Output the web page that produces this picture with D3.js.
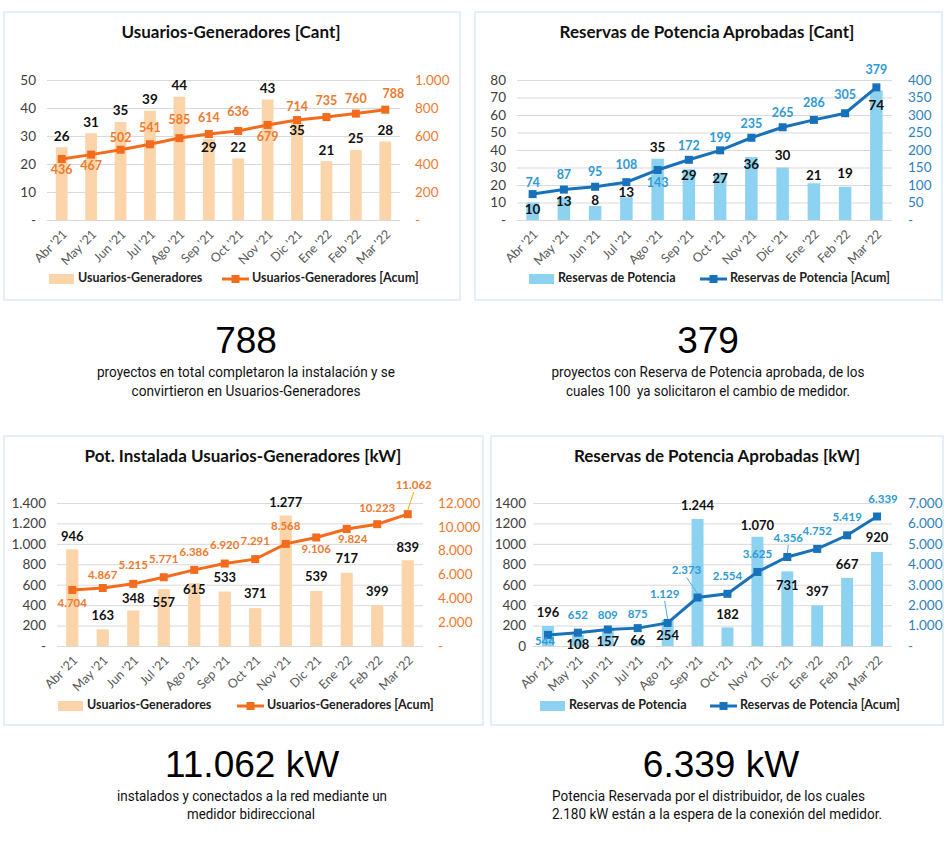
<!DOCTYPE html>
<html>
<head>
<meta charset="utf-8">
<script src="https://d3js.org/d3.v7.min.js"></script>
<style>
  body { margin: 0; background: #fff; }
  text { font-family: Lato, "Open Sans", sans-serif; }
</style>
</head>
<body>
<div id="page"></div>
<script>
// ---- data ----
const months = ["Abr '21", "May '21", "Jun '21", "Jul '21", "Ago '21", "Sep '21",
                "Oct '21", "Nov '21", "Dic '21", "Ene '22", "Feb '22", "Mar '22"];

const ugCant     = [26, 31, 35, 39, 44, 29, 22, 43, 35, 21, 25, 28];
const ugCantAcum = [436, 467, 502, 541, 585, 614, 636, 679, 714, 735, 760, 788];

const resCant     = [10, 13, 8, 13, 35, 29, 27, 36, 30, 21, 19, 74];
const resCantAcum = [74, 87, 95, 108, 143, 172, 199, 235, 265, 286, 305, 379];

const ugKw     = [946, 163, 348, 557, 615, 533, 371, 1277, 539, 717, 399, 839];
const ugKwAcum = [4704, 4867, 5215, 5771, 6386, 6920, 7291, 8568, 9106, 9824, 10223, 11062];

const resKw     = [196, 108, 157, 66, 254, 1244, 182, 1070, 731, 397, 667, 920];
const resKwAcum = [544, 652, 809, 875, 1129, 2373, 2554, 3625, 4356, 4752, 5419, 6339];

const ticksUgCant     = [0, 10, 20, 30, 40, 50];
const ticksUgCantAcum = [0, 200, 400, 600, 800, 1000];
const ticksResCant     = [0, 10, 20, 30, 40, 50, 60, 70, 80];
const ticksResCantAcum = [0, 50, 100, 150, 200, 250, 300, 350, 400];
const ticksUgKw     = [0, 200, 400, 600, 800, 1000, 1200, 1400];
const ticksUgKwAcum = [0, 2000, 4000, 6000, 8000, 10000, 12000];
const ticksResKw     = [0, 200, 400, 600, 800, 1000, 1200, 1400];
const ticksResKwAcum = [0, 1000, 2000, 3000, 4000, 5000, 6000, 7000];

// spanish number format, zero shown as "-"
const fmtEs = d => d === 0 ? "-" : d3.format(",")(d).replace(/,/g, ".");
const fmtPlain = d => String(d);

const W = 946, H = 860;
const svg = d3.select("#page").append("svg")
  .attr("width", W).attr("height", H)
  .attr("viewBox", [0, 0, W, H]);

const orange = { bar: "#FBD5A9", line: "#F36C1E", label: "#EE7A2F", axis: "#EE7A2F", leader: "#E2B400" };
const blue   = { bar: "#8ED2F1", line: "#1772BA", label: "#2E9AD6", axis: "#2E7FC0", leader: "#4FAEE0" };

function drawChart(c) {
  const g = svg.append("g");

  g.append("rect")
    .attr("x", c.panel[0]).attr("y", c.panel[1])
    .attr("width", c.panel[2]).attr("height", c.panel[3])
    .attr("fill", "#fff").attr("stroke", "#DCEBF7").attr("stroke-width", 1.6);

  g.append("text")
    .attr("x", c.titleX).attr("y", c.panel[1] + 22)
    .attr("text-anchor", "middle").attr("dominant-baseline", "middle")
    .attr("font-size", 17).attr("font-weight", 700).attr("fill", "#111")
    .text(c.title);

  const x = d3.scaleBand().domain(months).range([c.x0, c.x1])
    .paddingInner(0.6).paddingOuter(0.3);
  const cx = m => x(m) + x.bandwidth() / 2;
  const yL = d3.scaleLinear().domain([0, d3.max(c.leftTicks)]).range([c.y1, c.y0]);
  const yR = d3.scaleLinear().domain([0, d3.max(c.rightTicks)]).range([c.y1, c.y0]);

  // left axis + gridlines
  g.append("g")
    .attr("transform", `translate(${c.x0},0)`)
    .call(d3.axisLeft(yL).tickValues(c.leftTicks).tickFormat(c.leftFmt)
      .tickSize(-(c.x1 - c.x0)).tickPadding(c.x0 - c.leftLabelX))
    .call(a => a.select(".domain").remove())
    .call(a => a.selectAll("line").attr("stroke", "#D9D9D9").attr("stroke-width", 1))
    .call(a => a.selectAll("text").attr("fill", "#404040").attr("font-size", 13.5)
      .style("font-family", "Lato, sans-serif"));

  // right axis
  g.append("g")
    .attr("transform", `translate(${c.x1},0)`)
    .call(d3.axisRight(yR).tickValues(c.rightTicks).tickFormat(fmtEs)
      .tickSize(0).tickPadding(c.rightLabelX - c.x1))
    .call(a => a.select(".domain").remove())
    .call(a => a.selectAll("text").attr("fill", c.col.axis).attr("font-size", 13.5)
      .style("font-family", "Lato, sans-serif"));

  // x axis, rotated labels
  g.append("g")
    .attr("transform", `translate(0,${c.y1})`)
    .call(d3.axisBottom(x).tickSize(0))
    .call(a => a.select(".domain").remove())
    .call(a => a.selectAll("text")
      .attr("y", 0).attr("dy", "0.35em")
      .attr("text-anchor", "end")
      .attr("transform", "translate(3,12) rotate(-45)")
      .attr("fill", "#595959").attr("font-size", 12.5)
      .style("font-family", "Lato, sans-serif"));

  // bars
  g.append("g").selectAll("rect")
    .data(c.bars)
    .join("rect")
      .attr("x", (d, i) => x(months[i]))
      .attr("y", d => yL(d))
      .attr("width", x.bandwidth())
      .attr("height", d => c.y1 - yL(d))
      .attr("fill", c.col.bar);

  // line + markers
  const line = d3.line().x((d, i) => cx(months[i])).y(d => yR(d));
  g.append("path")
    .datum(c.acum)
    .attr("d", line)
    .attr("fill", "none").attr("stroke", c.col.line).attr("stroke-width", 3);

  g.append("g").selectAll("rect")
    .data(c.acum)
    .join("rect")
      .attr("x", (d, i) => cx(months[i]) - 4)
      .attr("y", d => yR(d) - 4)
      .attr("width", 8).attr("height", 8)
      .attr("fill", c.col.line);

  // leader lines for some line labels
  c.leaders.forEach(i => {
    const px = cx(months[i]), py = yR(c.acum[i]);
    const [dx, dy] = c.lineOff[i];
    g.append("line")
      .attr("x1", px).attr("y1", py - 4)
      .attr("x2", px + dx).attr("y2", py + dy + 6)
      .attr("stroke", c.col.leader).attr("stroke-width", 1);
  });

  // bar labels
  g.append("g").selectAll("text")
    .data(c.bars)
    .join("text")
      .attr("x", (d, i) => cx(months[i]))
      .attr("y", (d, i) => yL(d) + c.barOff[i])
      .attr("text-anchor", "middle").attr("dominant-baseline", "middle")
      .attr("font-size", c.barFont).attr("font-weight", 700).attr("fill", "#111")
      .text(c.barFmt);

  // line labels
  g.append("g").selectAll("text")
    .data(c.acum)
    .join("text")
      .attr("x", (d, i) => cx(months[i]) + c.lineOff[i][0])
      .attr("y", (d, i) => yR(d) + c.lineOff[i][1])
      .attr("text-anchor", "middle").attr("dominant-baseline", "middle")
      .attr("font-size", c.lineFont).attr("font-weight", 700).attr("fill", c.col.label)
      .text(fmtEs);

  // legend
  const ly = c.legendY;
  g.append("rect")
    .attr("x", c.legendX[0]).attr("y", ly - 5).attr("width", 25).attr("height", 10)
    .attr("fill", c.col.bar);
  g.append("text")
    .attr("x", c.legendX[0] + 29).attr("y", ly)
    .attr("dominant-baseline", "middle").attr("font-size", 12.5).attr("font-weight", 700)
    .attr("fill", "#222").text(c.legend[0]);
  g.append("line")
    .attr("x1", c.legendX[1]).attr("x2", c.legendX[1] + 27)
    .attr("y1", ly).attr("y2", ly)
    .attr("stroke", c.col.line).attr("stroke-width", 3);
  g.append("rect")
    .attr("x", c.legendX[1] + 9.5).attr("y", ly - 4).attr("width", 8).attr("height", 8)
    .attr("fill", c.col.line);
  g.append("text")
    .attr("x", c.legendX[1] + 30).attr("y", ly)
    .attr("dominant-baseline", "middle").attr("font-size", 12.5).attr("font-weight", 700)
    .attr("fill", "#222").text(c.legend[1]);
}

const off = a => a.map(v => Array.isArray(v) ? v : [0, v]);

drawChart({
  panel: [4, 12, 456, 288], title: "Usuarios-Generadores [Cant]", titleX: 231,
  x0: 47, x1: 400, y0: 80, y1: 220, leftLabelX: 36, rightLabelX: 415,
  leftTicks: ticksUgCant, rightTicks: ticksUgCantAcum, leftFmt: fmtEs,
  bars: ugCant, acum: ugCantAcum, barFmt: fmtEs, col: orange,
  barFont: 13.5, lineFont: 12.5,
  barOff: [-10, -10, -10, -10, -10, 10, -10, -10, 10, -10, -10, -10],
  lineOff: off([12, 12, -11, -15, -17, -15, -18, 13, -12, -15, -14, [8, -15]]),
  leaders: [],
  legendY: 279, legendX: [49, 222],
  legend: ["Usuarios-Generadores", "Usuarios-Generadores [Acum]"]
});

drawChart({
  panel: [475, 12, 467, 288], title: "Reservas de Potencia Aprobadas [Cant]", titleX: 707,
  x0: 517, x1: 892, y0: 80, y1: 220, leftLabelX: 506, rightLabelX: 908,
  leftTicks: ticksResCant, rightTicks: ticksResCantAcum, leftFmt: fmtEs,
  bars: resCant, acum: resCantAcum, barFmt: fmtEs, col: blue,
  barFont: 13.5, lineFont: 12.5,
  barOff: [8, 5, -4, -4, -10, 7, 7, 9, -11, -7, -12, 16],
  lineOff: off([-10, -14, -14, -16, 14, -13, -12, -13, -13, -16, -17, -17]),
  leaders: [],
  legendY: 279, legendX: [529, 700],
  legend: ["Reservas de Potencia", "Reservas de Potencia [Acum]"]
});

drawChart({
  panel: [4, 436, 479, 289], title: "Pot. Instalada Usuarios-Generadores [kW]", titleX: 243,
  x0: 57, x1: 423, y0: 503, y1: 646, leftLabelX: 46, rightLabelX: 438,
  leftTicks: ticksUgKw, rightTicks: ticksUgKwAcum, leftFmt: fmtEs,
  bars: ugKw, acum: ugKwAcum, barFmt: fmtEs, col: orange,
  barFont: 13, lineFont: 11.5,
  barOff: [-12, -13, -11, 15, 7, -13, -13, -12, -13, -13, -13, -12],
  lineOff: off([14, -12, -18, -17, -17, -17, -17, -17, 13, [6, 11], -15, [6, -28]]),
  leaders: [11],
  legendY: 706, legendX: [58, 237],
  legend: ["Usuarios-Generadores", "Usuarios-Generadores [Acum]"]
});

drawChart({
  panel: [491, 436, 452, 289], title: "Reservas de Potencia Aprobadas [kW]", titleX: 717,
  x0: 533, x1: 892, y0: 503, y1: 646, leftLabelX: 526, rightLabelX: 908,
  leftTicks: ticksResKw, rightTicks: ticksResKwAcum, leftFmt: fmtPlain,
  bars: resKw, acum: resKwAcum, barFmt: fmtEs, col: blue,
  barFont: 13, lineFont: 11.5,
  barOff: [-12, 11, 13, 2, 17, -12, -12, -10, 15, -13, -12, -13],
  lineOff: off([[-3, 7], -17, -13, -13, [-3, -28], [-11, -26], -17, -17, [1, -18], -17, -17, [6, -16]]),
  leaders: [4, 5, 8],
  legendY: 706, legendX: [540, 710],
  legend: ["Reservas de Potencia", "Reservas de Potencia [Acum]"]
});

// ---- summary texts ----
const big = (x, y, t) => svg.append("text")
  .attr("x", x).attr("y", y).attr("text-anchor", "middle")
  .style("font-family", "'Liberation Sans', Arial, sans-serif")
  .attr("font-size", 37).attr("fill", "#000").text(t);

const small = (x, y, t, len, anchor) => svg.append("text")
  .attr("x", x).attr("y", y).attr("text-anchor", anchor || "middle")
  .attr("dominant-baseline", "middle")
  .style("font-family", "'Liberation Sans Narrow', 'Roboto', 'Liberation Sans', sans-serif")
  .style("white-space", "pre")
  .attr("font-size", 15).attr("fill", "#111")
  .attr("textLength", len).attr("lengthAdjust", "spacingAndGlyphs")
  .text(t);

big(246, 353, "788");
small(246, 373, "proyectos en total completaron la instalación y se", 298);
small(246, 392, "convirtieron en Usuarios-Generadores", 229);

big(708, 353, "379");
small(708, 373, "proyectos con Reserva de Potencia aprobada, de los", 313);
small(708, 392, "cuales 100  ya solicitaron el cambio de medidor.", 284);

big(252, 777, "11.062 kW");
small(252, 797, "instalados y conectados a la red mediante un", 270);
small(251, 815, "medidor bidireccional", 128);

big(721, 777, "6.339 kW");
small(552, 797, "Potencia Reservada por el distribuidor, de los cuales", 313, "start");
small(552, 815, "2.180 kW están a la espera de la conexión del medidor.", 330, "start");
</script>
</body>
</html>
